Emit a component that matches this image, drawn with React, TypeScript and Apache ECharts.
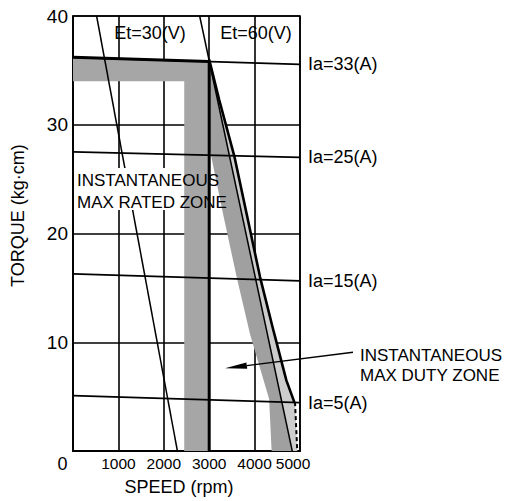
import React, { useEffect, useRef } from "react";
import * as echarts from "echarts";

// ---- data (speed rpm, torque kg·cm) ----
const speedRange = [0, 5000];
const torqueRange = [0, 40];
const ia33 = [[0, 36.2], [5000, 35.55]];
const ia33Bold = [[0, 36.2], [3000, 35.81]];
const ia25 = [[0, 27.5], [5000, 27.0]];
const ia15 = [[0, 16.3], [5000, 15.65]];
const ia5 = [[0, 5.1], [5000, 4.45]];
const et30 = [[520, 40], [2300, 0]];
const et60 = [[2790, 40], [4830, 0]];
const ratedSpeedLine = [[3000, 0], [3000, 35.85]];
const dutyBoundary = [[3000, 36], [3220, 32.3], [3560, 27], [3830, 21.7], [4120, 16], [4420, 11], [4700, 6.5], [4875, 4.5]];
const dutyTail = [[4890, 4.5], [4940, 0]];
const ratedZone = [[0, 36.2], [3000, 35.85], [3000, 0], [2450, 0], [2450, 34.0], [0, 34.0]];
const dutyZoneDark = [[3000, 36], [4830, 0], [4375, 0], [4320, 4.8], [3900, 10.75], [3605, 16], [3310, 21.7], [3000, 28]];
const dutyZoneLight = [[3000, 36], [4830, 0], [4940, 0], [4890, 4.5], [4875, 4.5], [4700, 6.5], [4420, 11], [4120, 16], [3830, 21.7], [3560, 27], [3220, 32.3]];
const iaLabels = ["Ia=33(A)", "Ia=25(A)", "Ia=15(A)", "Ia=5(A)"];
const etLabels = ["Et=30(V)", "Et=60(V)"];

const FONT = '"Liberation Sans", Arial, Helvetica, sans-serif';

function polygonSeries(points: number[][], color: string, z: number) {
  return {
    type: "custom",
    z,
    silent: true,
    clip: true,
    data: [[points[0][0], points[0][1]]],
    renderItem: (_p: any, api: any) => ({
      type: "polygon",
      shape: { points: points.map((p) => api.coord(p)) },
      style: { fill: color },
    }),
  };
}

function lineSeries(data: number[][], width: number, z: number, label?: string, dashed?: boolean) {
  return {
    type: "line",
    z,
    silent: true,
    data,
    symbol: "none",
    lineStyle: { color: "#000", width, type: dashed ? [4, 3] : "solid" },
    endLabel: label
      ? { show: true, formatter: label, distance: 8, color: "#000", fontSize: 18, fontFamily: FONT }
      : { show: false },
  };
}

export default function App() {
  const ref = useRef<HTMLDivElement>(null);
  useEffect(() => {
    if (!ref.current) return;
    const chart = echarts.init(ref.current, undefined, { renderer: "svg" });
    const xLabelStyle = { color: "#000", fontSize: 15.5, fontFamily: FONT };
    const tip = [225, 368.3];
    const base = [246.8, 365.6];
    chart.setOption({
      animation: false,
      grid: { left: 73, top: 16, width: 227, height: 437, show: true, borderColor: "#000", borderWidth: 1.6, backgroundColor: "transparent" },
      xAxis: {
        type: "value",
        min: speedRange[0],
        max: speedRange[1],
        interval: 1000,
        axisLine: { show: true, lineStyle: { color: "#000", width: 1.6 } },
        axisTick: { show: false },
        splitLine: { show: true, lineStyle: { color: "#000", width: 1.6 } },
        axisLabel: {
          ...xLabelStyle,
          margin: 4,
          hideOverlap: false,
          showMinLabel: true,
          showMaxLabel: true,
          formatter: (v: number) => (v === 0 ? "{z|0}" : v === 5000 ? "{e|5000}" : String(v)),
          rich: {
            z: { ...xLabelStyle, fontSize: 18, padding: [0, 21, 0, 0] },
            e: { ...xLabelStyle, padding: [0, 14, 0, 0] },
          },
        },
        name: "SPEED (rpm)",
        nameLocation: "middle",
        nameGap: 14,
        nameTextStyle: { color: "#000", fontSize: 18, fontFamily: FONT, padding: [0, 15, 0, 0], verticalAlign: "top" },
      },
      yAxis: {
        type: "value",
        min: torqueRange[0],
        max: torqueRange[1],
        interval: 10,
        axisLine: { show: true, lineStyle: { color: "#000", width: 1.6 } },
        axisTick: { show: false },
        splitLine: { show: true, lineStyle: { color: "#000", width: 1.6 } },
        axisLabel: { color: "#000", fontFamily: FONT, fontSize: 19, margin: 5, formatter: (v: number) => (v === 0 ? "" : String(v)) },
        name: "TORQUE (kg·cm)",
        nameLocation: "middle",
        nameRotate: 90,
        nameGap: 46,
        nameTextStyle: { color: "#000", fontSize: 18, fontFamily: FONT, padding: [0, 0, 0, 36] },
      },
      series: [
        polygonSeries(ratedZone, "#a6a6a6", 1),
        polygonSeries(dutyZoneLight, "#cdcdcd", 1),
        polygonSeries(dutyZoneDark, "#a0a0a0", 1),
        lineSeries(et30, 1.5, 2),
        lineSeries(ia33, 1.8, 4, iaLabels[0]),
        lineSeries(ia33Bold, 3, 4),
        lineSeries(ia25, 1.8, 4, iaLabels[1]),
        lineSeries(ia15, 1.8, 4, iaLabels[2]),
        lineSeries(ia5, 1.8, 4, iaLabels[3]),
        lineSeries(et60, 1.5, 4),
        lineSeries(ratedSpeedLine, 3, 4),
        lineSeries(dutyBoundary, 2.6, 4),
        lineSeries(dutyTail, 2, 4, undefined, true),
      ],
      graphic: [
        { type: "rect", z: 3, shape: { x: 75, y: 168, width: 109, height: 42 }, style: { fill: "#fff" } },
        {
          type: "text", z: 10, x: 77, y: 170,
          style: { text: "INSTANTANEOUS\nMAX RATED ZONE", fill: "#000", fontSize: 17, fontFamily: FONT, lineHeight: 21.5, align: "left", verticalAlign: "top", textAlign: "left", textVerticalAlign: "top" },
        },
        {
          type: "text", z: 10, x: 360, y: 345,
          style: { text: "INSTANTANEOUS\nMAX DUTY ZONE", fill: "#000", fontSize: 17, fontFamily: FONT, lineHeight: 20, align: "left", verticalAlign: "top", textAlign: "left", textVerticalAlign: "top" },
        },
        {
          type: "text", z: 10, x: 150, y: 32.5,
          style: { text: etLabels[0], fill: "#000", fontSize: 18, fontFamily: FONT, align: "center", verticalAlign: "middle", textAlign: "center", textVerticalAlign: "middle" },
        },
        {
          type: "text", z: 10, x: 256, y: 32.5,
          style: { text: etLabels[1], fill: "#000", fontSize: 18, fontFamily: FONT, align: "center", verticalAlign: "middle", textAlign: "center", textVerticalAlign: "middle" },
        },
        { type: "line", z: 10, shape: { x1: base[0], y1: base[1], x2: 353, y2: 352.3 }, style: { stroke: "#000", lineWidth: 1.4 } },
        { type: "polygon", z: 10, shape: { points: [tip, [247.2, 368.8], [246.4, 362.4]] }, style: { fill: "#000" } },
      ],
    });
    return () => chart.dispose();
  }, []);
  return <div ref={ref} style={{ position: "fixed", left: 0, top: 0, width: 509, height: 501, background: "#fff" }} />;
}
